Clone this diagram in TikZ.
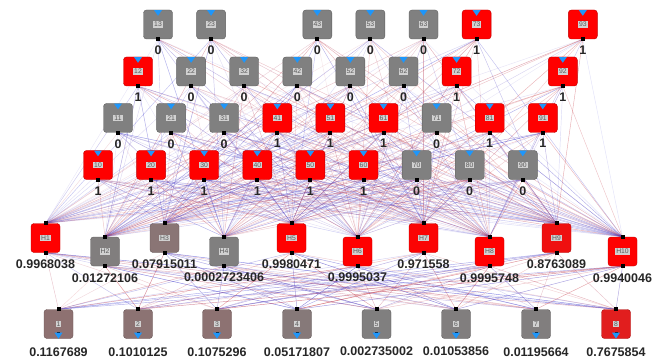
\documentclass[tikz,border=0pt]{standalone}
\usepackage{fontspec}
\setmainfont{Liberation Sans}
\usetikzlibrary{backgrounds,calc}
\definecolor{ered}{RGB}{210,60,60}
\definecolor{eblue}{RGB}{60,60,210}
\definecolor{tblue}{RGB}{30,150,250}
\tikzset{
  nbox/.style={draw=#1!75!black, fill=#1, rounded corners=3pt, minimum width=29pt, minimum height=29pt, inner sep=0pt, line width=0.4pt},
  idbox/.style={fill=black!18, inner sep=1pt, font=\fontsize{6.8}{7}\selectfont, text=black!65},
  sq/.style={fill=black, minimum size=4pt, inner sep=0pt},
  val/.style={font=\fontsize{12.5}{14}\selectfont\bfseries, text=black!85},
  tri/.style={fill=tblue},
  wire/.style={line width=0.45pt}
}
\begin{document}
\begin{tikzpicture}[x=1pt,y=-1pt]
\useasboundingbox (0,0) rectangle (660,358);
% input nodes
\foreach \id/\x/\y/\v in {
  13/158/24.5/0, 23/211.1/24.5/0, 43/317.3/24.5/0, 53/370.4/24.5/0, 63/423.5/24.5/0, 73/476.6/24.5/1, 93/582.8/24.5/1,
  12/138/71.5/1, 22/191.1/71.5/0, 32/244.2/71.5/0, 42/297.3/71.5/0, 52/350.4/71.5/0, 62/403.5/71.5/0, 72/456.6/71.5/1, 92/562.8/71.5/1,
  11/118/118/0, 21/171.1/118/0, 31/224.2/118/0, 41/277.3/118/1, 51/330.4/118/1, 61/383.5/118/1, 71/436.6/118/0, 81/489.7/118/1, 91/542.8/118/1,
  10/98/165/1, 20/151.1/165/1, 30/204.2/165/1, 40/257.3/165/1, 50/310.4/165/1, 60/363.5/165/1, 70/416.6/165/0, 80/469.7/165/0, 90/522.8/165/0}
{
  \ifnum\v=1 \def\fc{red}\else\def\fc{gray}\fi
  \node[nbox=\fc] (i\id) at (\x,\y) {};
  \node[idbox] (i\id l) at (i\id.center) {\id};
  \fill[tri] ($(i\id.north)+(-4,0.3)$) -- ($(i\id.north)+(4,0.3)$) -- ($(i\id.north)+(0,6)$) -- cycle;
  \node[sq] (i\id b) at (i\id.south) {};
  \node[val] (i\id v) at ($(i\id.south)+(0,11)$) {\v};
}
% hidden nodes
\foreach \k/\x/\y/\p/\lab in {
  1/45.5/238/99.68/0.9968038, 2/105/251.5/1.27/0.01272106, 3/164.5/238/7.9/0.07915011,
  4/224/251.5/0.03/0.0002723406, 5/291.5/238/99.8/0.9980471, 6/357.5/251.5/99.95/0.9995037,
  7/423.5/238/97.2/0.971558, 8/489.5/251.5/99.96/0.9995748, 9/556.5/238/87.6/0.8763089,
  10/622.5/251.5/99.4/0.9940046}
{
  \node[nbox=red!\p!gray] (H\k) at (\x,\y) {};
  \node[idbox] (H\k l) at (H\k.center) {H\k};
  \node[sq] (H\k t) at (H\k.north) {};
  \node[sq] (H\k b) at (H\k.south) {};
  \node[val] (H\k v) at ($(H\k.south)+(0,11.5)$) {\lab};
}
% output nodes
\foreach \k/\x/\p/\lab in {
  1/58.5/11.7/0.1167689, 2/138/10.1/0.1010125, 3/217/10.75/0.1075296, 4/297/5.2/0.05171807,
  5/376.5/0.27/0.002735002, 6/456/1.05/0.01053856, 7/536/1.2/0.01195664, 8/616/76.8/0.7675854}
{
  \node[nbox=red!\p!gray] (O\k) at (\x,324) {};
  \node[idbox] (O\k l) at (O\k.center) {\k};
  \node[sq] (O\k t) at (O\k.north) {};
  \node[sq,minimum size=3pt] (O\k s) at ($(O\k.south)+(0,-5)$) {};
  \fill[tri] ($(O\k.south)+(-4,-6)$) -- ($(O\k.south)+(4,-6)$) -- ($(O\k.south)+(0,0)$) -- cycle;
  \node[val] (O\k v) at ($(O\k.south)+(0,13)$) {\lab};
}
% connections
\pgfmathsetseed{4242}
\begin{scope}[on background layer]
\foreach \id in {13,23,43,53,63,73,93,12,22,32,42,52,62,72,92,11,21,31,41,51,61,71,81,91,10,20,30,40,50,60,70,80,90}
{
  \foreach \h in {1,...,10}
  {
    \pgfmathtruncatemacro\pc{rnd<0.5 ? 22*rnd : 78+22*rnd}
    \pgfmathsetmacro\op{0.12+0.33*rnd}
    \draw[wire, draw=ered!\pc!eblue, draw opacity=\op] (i\id b.center) -- (H\h t.center);
  }
}
\foreach \h in {1,...,10}
{
  \foreach \k in {1,...,8}
  {
    \pgfmathtruncatemacro\pc{rnd<0.5 ? 20*rnd : 80+20*rnd}
    \pgfmathsetmacro\op{0.18+0.45*rnd}
    \draw[wire, draw=ered!\pc!eblue, draw opacity=\op] (H\h b.center) -- (O\k t.center);
  }
}
\end{scope}
\end{tikzpicture}
\end{document}
